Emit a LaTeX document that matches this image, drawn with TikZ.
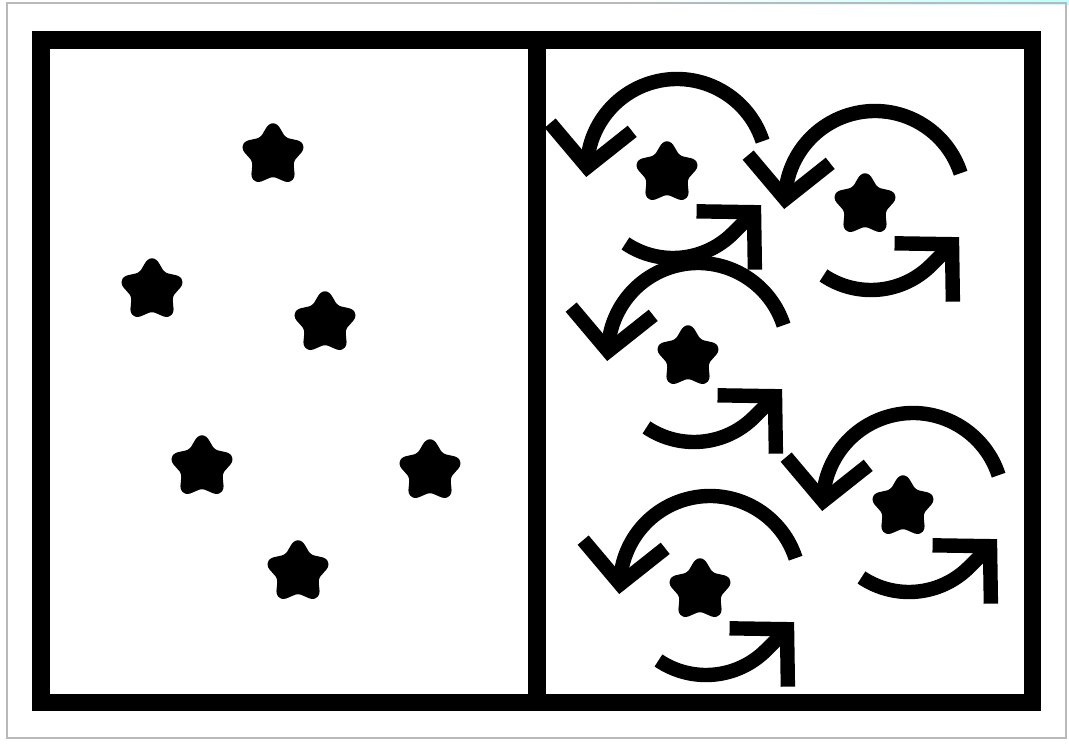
\documentclass[tikz,border=0pt]{standalone}
\usepackage{tikz}
\usetikzlibrary{arrows.meta,shapes.geometric}
\tikzset{
  frm/.style={line width=10.2pt,black},
  divline/.style={line width=10.5pt,black},
  stdot/.style={star,star points=5,star point ratio=1.8,minimum size=1.2cm,
    inner sep=0pt,fill=black,draw=black,line width=5pt,line join=round,
    rounded corners=3pt},
  rotarc/.style={line width=8.2pt,black,-{Straight Barb[length=0.8cm,width=1.65cm]}},
}

\begin{document}
\begin{tikzpicture}[x=0.02cm,y=-0.02cm]
  \useasboundingbox (0,0) rectangle (1069,744);
  \shade[left color=white,right color=cyan!25] (620,0) rectangle (1069,4);
  \draw[gray!55,line width=1.2pt] (7,3) rectangle (1066,738);
  % frame and divider
  \draw[frm] (41,40) rectangle (1032.5,702.5);
  \draw[divline] (537,40) -- (537,702.5);
  % left half: still stars
  \node[stdot] (l1) at (273,155) {};
  \node[stdot] (l2) at (152,290) {};
  \node[stdot] (l3) at (325,323) {};
  \node[stdot] (l4) at (202,467) {};
  \node[stdot] (l5) at (430,471) {};
  \node[stdot] (l6) at (298,572) {};
  % right half: spinning stars
  \node[stdot] (r1) at (667,173) {};
  \node[stdot] (r2) at (865,205) {};
  \node[stdot] (r3) at (688,357) {};
  \node[stdot] (r4) at (903,507) {};
  \node[stdot] (r5) at (700,590) {};
  \foreach \s in {r1,r2,r3,r4,r5}{
    \draw[rotarc] (\s.center) ++(10,-4) ++(-18:90) arc (-18:-180:90) -- ++(-0.8,8);
    \draw[rotarc] (\s.center) ++(6,0) ++(124:85) arc (124:45:85) -- ++(28,-28);
  }
\end{tikzpicture}
\end{document}
